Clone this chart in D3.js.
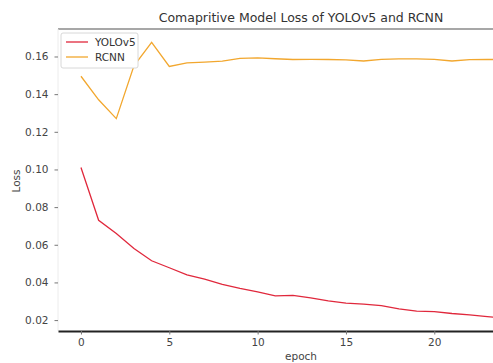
<!DOCTYPE html>
<html><head><meta charset="utf-8">
<script src="https://cdn.jsdelivr.net/npm/d3@7"></script>
<style>body{margin:0;background:#fff}svg{display:block}text{font-family:"DejaVu Sans",sans-serif}</style>
</head><body><svg id="c" width="493" height="363"></svg>
<script>
const epochs = [0,1,2,3,4,5,6,7,8,9,10,11,12,13,14,15,16,17,18,19,20,21,22,23,24,25];
const yolo = [0.101,0.073,0.066,0.058,0.0515,0.0478,0.044,0.0418,0.039,0.0368,0.035,0.0329,0.0331,0.0318,0.0302,0.029,0.0285,0.0277,0.026,0.0248,0.0245,0.0235,0.0228,0.0218,0.021,0.0205];
const rcnn = [0.1495,0.137,0.127,0.155,0.1675,0.1547,0.1566,0.157,0.1575,0.159,0.1593,0.1588,0.1584,0.1585,0.1584,0.1582,0.1576,0.1585,0.1587,0.1587,0.1585,0.1576,0.1583,0.1584,0.1584,0.1584];
const xTicks = [0,5,10,15,20];
const yTicks = [0.02,0.04,0.06,0.08,0.10,0.12,0.14,0.16];
const seriesNames = ["YOLOv5","RCNN"];
const colors = ["#e0283c","#f2a72e"];

const svg = d3.select("#c");
const L=58, R=544, T=29, B=331;
const x = d3.scaleLinear().domain([-1.3, 26.21]).range([L, R]);
const y = d3.scaleLinear().domain([0.0142, 0.1746]).range([B, T]);

// spines
svg.append("line").attr("x1",L).attr("x2",R).attr("y1",T).attr("y2",T).attr("stroke","#8a8a8a").attr("stroke-width",1.5);
svg.append("line").attr("x1",L).attr("x2",L).attr("y1",T).attr("y2",B).attr("stroke","#ececec").attr("stroke-width",1);

// axes
const xa = svg.append("g").attr("transform",`translate(0,${B})`).call(d3.axisBottom(x).tickValues(xTicks).tickFormat(d3.format("d")).tickSize(3.5).tickSizeOuter(0).tickPadding(4));
xa.select(".domain").attr("stroke","#222").attr("stroke-width",2);
const ya = svg.append("g").attr("transform",`translate(${L},0)`).call(d3.axisLeft(y).tickValues(yTicks).tickFormat(d3.format(".2f")).tickSize(3.5).tickPadding(6));
ya.select(".domain").remove();
svg.selectAll(".tick line").attr("stroke","#777");
svg.selectAll(".tick text").attr("fill","#444").style("font-size","10.5px");

// lines
const line = d3.line().x((d,i)=>x(epochs[i])).y(d=>y(d));
[yolo, rcnn].forEach((s,k)=>{
  svg.append("path").datum(s).attr("d",line).attr("fill","none").attr("stroke",colors[k]).attr("stroke-width",1.3);
});

// title and labels
svg.append("text").attr("x",301).attr("y",22).attr("text-anchor","middle").attr("fill","#333").style("font-size","12.5px").text("Comapritive Model Loss of YOLOv5 and RCNN");
svg.append("text").attr("x",301).attr("y",360).attr("text-anchor","middle").attr("fill","#444").style("font-size","10.5px").text("epoch");
svg.append("text").attr("transform","translate(20,181) rotate(-90)").attr("text-anchor","middle").attr("fill","#444").style("font-size","10.5px").text("Loss");

// legend
const lg = svg.append("g");
lg.append("rect").attr("x",61).attr("y",33).attr("width",77).attr("height",35).attr("rx",2).attr("fill","#fff").attr("stroke","#d8d8d8");
seriesNames.forEach((n,i)=>{
  const yy = 42 + i*15;
  lg.append("line").attr("x1",66).attr("x2",88).attr("y1",yy).attr("y2",yy).attr("stroke",colors[i]).attr("stroke-width",1.3);
  lg.append("text").attr("x",95).attr("y",yy+4).attr("fill","#333").style("font-size","10.5px").text(n);
});
</script></body></html>
